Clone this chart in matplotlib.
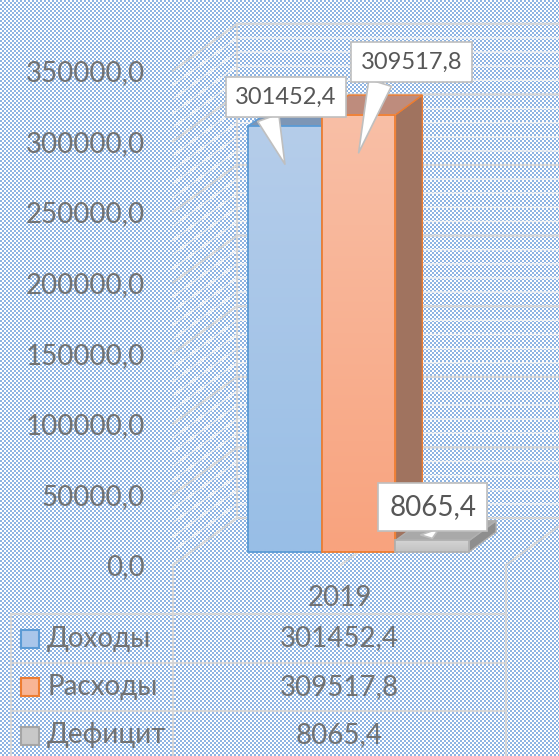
import numpy as np
import matplotlib
matplotlib.use("Agg")
import matplotlib.pyplot as plt
from matplotlib import transforms as mtransforms
from matplotlib.patches import Polygon, Rectangle
from matplotlib.lines import Line2D
from matplotlib.ticker import FuncFormatter

# ---------------- data ----------------
category = "2019"
series_names = ["Доходы", "Расходы", "Дефицит"]
series_values = [301452.4, 309517.8, 8065.4]
y_tick_values = [0, 50000, 100000, 150000, 200000, 250000, 300000, 350000]
y_minor_step = 10000

# ---------------- style ----------------
plt.rcParams['font.family'] = ['Lato', 'Open Sans', 'DejaVu Sans']
AXIS_TXT = '#727272'
LABEL_TXT = '#575757'
front_top = ['#B5CDEA', '#F8BFA6', '#D4D4D4']
front_bot = ['#98BEE6', '#F9A37E', '#C2C2C2']
edge_cols = ['#5B9BD5', '#ED7D31', '#B0B0B0']
top_cols = ['#7D96B6', '#BE8C7D', '#A9A9A9']
side_cols = ['#6F8FB5', '#A0735F', '#8E8E8E']
key_fill = ['#A9C6EA', '#F8B595', '#C8C8C8']
key_edge = ['#5B9BD5', '#ED7D31', '#A5A5A5']
MAJOR = '#D6D6D6'
MINOR = '#F2F2F2'

W, H, DPI = 559, 756, 100
fig = plt.figure(figsize=(W / DPI, H / DPI), dpi=DPI)


def fx(px):
    return px / W


def fy(py):
    return 1 - py / H


# checkered background
yy, xx = np.mgrid[0:H, 0:W]
checker = ((xx // 2 + yy // 2) % 2 == 0)
bg = np.ones((H, W, 3))
bg[checker] = np.array([142, 180, 227]) / 255
fig.figimage(bg, 0, 0, origin='upper', zorder=-5)

# ---------------- geometry ----------------
AX_LEFT_PX = 173
CAT0_PX = 267
CAT_PX = 73.7
ZERO_PX = 565
VAL_PX = 70.6 / 50000
DEPTH = np.array([64.0, 47.0])
BAR_T0, BAR_T1 = 0.28, 0.70
FLOOR_RIGHT_PX = 506

ax = fig.add_axes([fx(AX_LEFT_PX), 0, 1 - fx(AX_LEFT_PX), 1])
ax.set_xlim((AX_LEFT_PX - CAT0_PX) / CAT_PX, (W - CAT0_PX) / CAT_PX)
ax.set_ylim(-(H - ZERO_PX) / VAL_PX, ZERO_PX / VAL_PX)
ax.set_autoscale_on(False)
ax.patch.set_visible(False)
for s in ax.spines.values():
    s.set_visible(False)
ax.set_xticks([])
ax.set_yticks(y_tick_values)
ax.yaxis.set_major_formatter(FuncFormatter(lambda v, p: f"{v:.1f}".replace('.', ',')))
ax.tick_params(axis='y', length=0, pad=(AX_LEFT_PX - 145) * 72 / DPI,
               labelsize=20, labelcolor=AXIS_TXT)

ident = mtransforms.IdentityTransform()


def proj(x, v, t):
    return ax.transData.transform((x, v)) + t * DEPTH


wall_x = ax.get_xlim()[0]
floor_right_x = (FLOOR_RIGHT_PX - CAT0_PX) / CAT_PX
vmax = y_tick_values[-1]

# walls and gridlines
for v in np.arange(0, vmax + 1, y_minor_step):
    major = (v % 50000 == 0)
    a = proj(wall_x, v, 0)
    b = proj(wall_x, v, 1)
    ax.add_line(Line2D([a[0], b[0], W + 20], [a[1], b[1], b[1]], transform=ident,
                       color=MAJOR if major else MINOR, lw=1.5 if major else 1.0,
                       zorder=1.0 if major else 0.9, clip_on=False))
for (x0, v0, t0), (x1, v1, t1) in [
        ((wall_x, 0, 1), (wall_x, vmax, 1)),
        ((floor_right_x, 0, 0), (floor_right_x, 0, 1)),
        ((1, 0, 0), (1, 0, 1))]:
    a = proj(x0, v0, t0)
    b = proj(x1, v1, t1)
    ax.add_line(Line2D([a[0], b[0]], [a[1], b[1]], transform=ident, color=MAJOR,
                       lw=1.5, zorder=1.0, clip_on=False))

# ---------------- bars ----------------
tr_bar = mtransforms.offset_copy(ax.transData, fig=fig, x=BAR_T0 * DEPTH[0],
                                 y=BAR_T0 * DEPTH[1], units='dots')
xs = np.arange(len(series_values))
bars = ax.bar(xs, series_values, width=1.0, facecolor='none', edgecolor=edge_cols,
              linewidth=1.3, transform=tr_bar)

for i, rect in enumerate(bars):
    base = 3 + i
    x0 = rect.get_x()
    x1 = x0 + rect.get_width()
    v = rect.get_height()
    side = [proj(x1, 0, BAR_T0), proj(x1, v, BAR_T0), proj(x1, v, BAR_T1), proj(x1, 0, BAR_T1)]
    top = [proj(x0, v, BAR_T0), proj(x1, v, BAR_T0), proj(x1, v, BAR_T1), proj(x0, v, BAR_T1)]
    ax.add_patch(Polygon(side, closed=True, transform=ident, fc=side_cols[i],
                         ec=edge_cols[i], lw=1.0, zorder=base + 0.1))
    ax.add_patch(Polygon(top, closed=True, transform=ident, fc=top_cols[i],
                         ec=edge_cols[i], lw=1.0, zorder=base + 0.2))
    c0 = np.array(matplotlib.colors.to_rgb(front_top[i]))
    c1 = np.array(matplotlib.colors.to_rgb(front_bot[i]))
    g = np.linspace(0, 1, 64)[:, None, None]
    grad = c0 * (1 - g) + c1 * g
    ax.imshow(grad, extent=(x0, x1, 0, v), origin='upper', aspect='auto',
              interpolation='bilinear', transform=tr_bar, zorder=base + 0.3)
    rect.set_zorder(base + 0.4)

# ---------------- data labels ----------------
label_sizes = [17, 17, 20]
tip_dy = [-38, -38, 2]
box_offsets = [(1, 67), (53, 90.5), (0.5, 31.5)]
relpos_x = [0.29, 0.22, 0.42]
tail_w = [0.95, 1.0, 0.7]
for i, val in enumerate(series_values):
    xy_tr = mtransforms.offset_copy(ax.transData, fig=fig, x=BAR_T0 * DEPTH[0],
                                    y=BAR_T0 * DEPTH[1] + tip_dy[i], units='dots')
    ax.annotate(f"{val:.1f}".replace('.', ','), xy=(xs[i], val), xycoords=xy_tr,
                xytext=box_offsets[i], textcoords='offset pixels',
                ha='center', va='center', fontsize=label_sizes[i], color=LABEL_TXT,
                bbox=dict(boxstyle='square,pad=0.4', fc='white', ec='#BFBFBF', lw=1.2),
                arrowprops=dict(arrowstyle=f'wedge,tail_width={tail_w[i]},shrink_factor=0.5',
                                fc='white', ec='#BFBFBF', lw=1.2,
                                relpos=(relpos_x[i], 0.0), shrinkA=0, shrinkB=0),
                zorder=10, annotation_clip=False)

# ---------------- data table ----------------
TABLE_LEFT = 11
HEADER_Y = 598
ROW_LINES = [614, 663, 711]
ROW_CENTERS = [638.5, 687, 735.5]
left_sep = proj(wall_x, 0, 0)
right_sep = proj(floor_right_x, 0, 0)
col_cx = (left_sep[0] + right_sep[0]) / 2
for px_x in (left_sep[0], right_sep[0]):
    fig.add_artist(Line2D([fx(px_x), fx(px_x)], [fy(ZERO_PX), 0], transform=fig.transFigure,
                          color=MAJOR, lw=1.5, zorder=1))
fig.add_artist(Line2D([fx(TABLE_LEFT), fx(TABLE_LEFT)], [fy(ROW_LINES[0]), 0],
                      transform=fig.transFigure, color=MAJOR, lw=1.5, zorder=1))
for yl in ROW_LINES:
    fig.add_artist(Line2D([fx(TABLE_LEFT), fx(right_sep[0])], [fy(yl), fy(yl)],
                          transform=fig.transFigure, color=MAJOR, lw=1.5, zorder=1))

fig.text(fx(col_cx), fy(HEADER_Y), category, ha='center', va='center',
         fontsize=20, color=AXIS_TXT)
for i, (name, val) in enumerate(zip(series_names, series_values)):
    yc = ROW_CENTERS[i]
    fig.add_artist(Rectangle((fx(21), fy(yc + 9)), 18 / W, 18 / H, transform=fig.transFigure,
                             fc=key_fill[i], ec=key_edge[i], lw=1.5, zorder=2))
    fig.text(fx(47), fy(yc), name, ha='left', va='center', fontsize=20, color=AXIS_TXT)
    fig.text(fx(col_cx), fy(yc), f"{val:.1f}".replace('.', ','), ha='center', va='center',
             fontsize=20, color=AXIS_TXT)

fig.savefig('out.png', dpi=DPI)
